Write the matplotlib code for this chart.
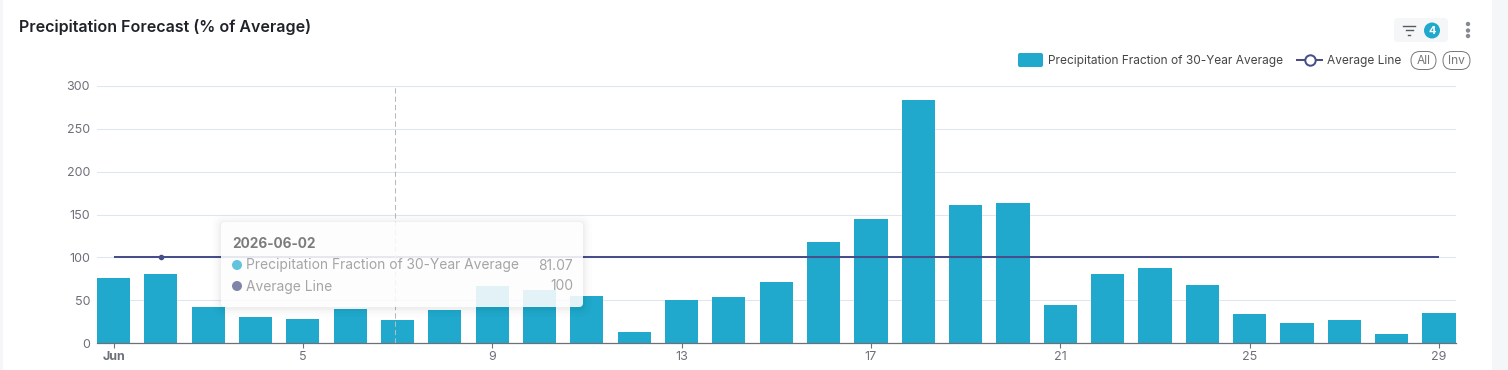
import matplotlib
matplotlib.use("Agg")
import matplotlib.pyplot as plt
from matplotlib.patches import FancyBboxPatch, Rectangle, Circle
from matplotlib.lines import Line2D

W, H = 1508, 370
plt.rcParams['font.family'] = ['Inter', 'DejaVu Sans']

# Data
days = list(range(1, 30))
precip = [76, 81.07, 42, 30, 28, 40, 27, 39, 67, 62, 55, 13, 50, 54, 71.5,
          118, 145, 284, 161, 164, 44, 80, 88, 68, 34, 23, 27, 11, 35]
average = [100] * 29
y_ticks = [0, 50, 100, 150, 200, 250, 300]
x_ticks = [1, 5, 9, 13, 17, 21, 25, 29]
x_labels = ['Jun', '5', '9', '13', '17', '21', '25', '29']
hover_day = 2
cross_day = 6.95

TEAL = '#20a9cc'
NAVY = '#464f8b'
GRID = '#e0e6f1'
TXT = '#6e7079'


def fs(px):
    return px * 0.72


fig = plt.figure(figsize=(W / 100, H / 100), dpi=100, facecolor='white')

# main chart, placed in pixels
left, right, top, bottom = 97, 1456, 86, 343
ax = fig.add_axes([left / W, 1 - bottom / H, (right - left) / W, (bottom - top) / H])
ax.set_xlim(0.65, 29.36)
ax.set_ylim(0, 300)
ax.patch.set_alpha(0)
for s in ['top', 'right', 'left']:
    ax.spines[s].set_visible(False)
ax.spines['bottom'].set_color(TXT)
ax.spines['bottom'].set_linewidth(0.9)
ax.set_yticks(y_ticks)
ax.set_xticks(x_ticks)
ax.set_xticklabels(x_labels)
ax.tick_params(axis='y', length=0, labelsize=fs(12.5), labelcolor=TXT, pad=5)
ax.tick_params(axis='x', length=3.6, width=0.8, color=TXT, labelsize=fs(12.5), labelcolor=TXT, pad=2.4)
ax.get_xticklabels()[0].set_fontweight('bold')
ax.grid(axis='y', color=GRID, linewidth=0.75)
ax.set_axisbelow(True)

ax.bar(days, precip, width=0.7, color=TEAL, zorder=2)
ax.plot(days, average, color=NAVY, linewidth=1.45, zorder=3, solid_capstyle='butt')
ax.plot([hover_day], [average[hover_day - 1]], 'o', color=NAVY, markersize=3, zorder=3)
ax.axvline(cross_day, color='#b6b9c0', linewidth=0.75, linestyle=(0, (5, 3)), zorder=4)

# overlay in pixel coordinates for the page furniture
ov = fig.add_axes([0, 0, 1, 1], zorder=5)
ov.set_xlim(0, W)
ov.set_ylim(H, 0)
ov.axis('off')
ov.patch.set_alpha(0)

# page edges
ov.add_patch(Rectangle((0, 0), 3, H, color='#f5f6f7', lw=0))
ov.add_patch(Rectangle((1492, 0), 16, H, color='#f5f6f7', lw=0))

ov.text(19, 27, 'Precipitation Forecast (% of Average)', fontsize=fs(16), fontweight='semibold',
        color='#1f2329', va='center', ha='left')

# filter button
ov.add_patch(FancyBboxPatch((1394, 18), 54, 24, boxstyle='round,pad=0,rounding_size=4', fc='#f5f6f7', ec='none'))
for y0, x0, x1 in [(25.5, 1403, 1415), (30, 1405.5, 1412.5), (34.5, 1408, 1410)]:
    ov.add_line(Line2D([x0, x1], [y0, y0], color='#555a61', lw=1))
ov.add_patch(Circle((1432, 30.5), 8, fc=TEAL, ec='none'))
ov.text(1432, 30.5, '4', fontsize=fs(11), color='white', fontweight='bold', ha='center', va='center')
for y0 in [24, 30.5, 36]:
    ov.add_patch(Circle((1468, y0), 2.2, fc='#868b92', ec='none'))

# legend
ov.add_patch(FancyBboxPatch((1018, 53), 25, 14, boxstyle='round,pad=0,rounding_size=2', fc=TEAL, ec='none'))
ov.text(1048, 60.7, 'Precipitation Fraction of 30-Year Average', fontsize=fs(11.9), color='#464646', va='center')
ov.add_line(Line2D([1297, 1322], [60, 60], color=NAVY, lw=1.45))
ov.add_line(Line2D([1309.5], [60], marker='o', markersize=7.5, mfc='white', mec=NAVY, mew=1.45))
ov.text(1327, 60.7, 'Average Line', fontsize=fs(11.9), color='#464646', va='center')
for x0, label in [(1411, 'All'), (1443, 'Inv')]:
    ov.add_patch(FancyBboxPatch((x0, 51.5), 25 if label == 'All' else 27, 18,
                                boxstyle='round,pad=0,rounding_size=9', fc='white', ec='#777777', lw=0.7))
    ov.text(x0 + (12.5 if label == 'All' else 13.5), 60.7, label, fontsize=fs(12), color='#777777', ha='center', va='center')

# tooltip with soft shadow
for grow, a in [(9, 0.006), (7, 0.008), (5, 0.01), (3, 0.014), (1.5, 0.018)]:
    ov.add_patch(FancyBboxPatch((221 - grow, 222 - grow + 1), 362 + 2 * grow, 85 + 2 * grow,
                                boxstyle='round,pad=0,rounding_size=%g' % (4 + grow), fc='black', ec='none', alpha=a))
ov.add_patch(FancyBboxPatch((221, 222), 362, 85, boxstyle='round,pad=0,rounding_size=4',
                            fc='white', ec='none', alpha=0.88))
ov.text(232, 244.5, '2026-06-%02d' % hover_day, fontsize=fs(13.6), fontweight='bold', color='#7c7c7c', va='center')
ov.add_patch(Circle((237, 265), 5, fc='#62c3dc', ec='none'))
ov.text(246, 265.5, 'Precipitation Fraction of 30-Year Average', fontsize=fs(13.8), color='#a5a5a5', va='center')
ov.text(573, 265.5, '%.2f' % precip[hover_day - 1], fontsize=fs(13.8), color='#a5a5a5', va='center', ha='right')
ov.add_patch(Circle((237, 286), 5, fc='#7f84a8', ec='none'))
ov.text(246, 286.5, 'Average Line', fontsize=fs(13.8), color='#a5a5a5', va='center')
ov.text(573, 286.5, '%d' % average[hover_day - 1], fontsize=fs(13.8), color='#a5a5a5', va='center', ha='right')

fig.savefig('out.png', dpi=100, facecolor='white')
